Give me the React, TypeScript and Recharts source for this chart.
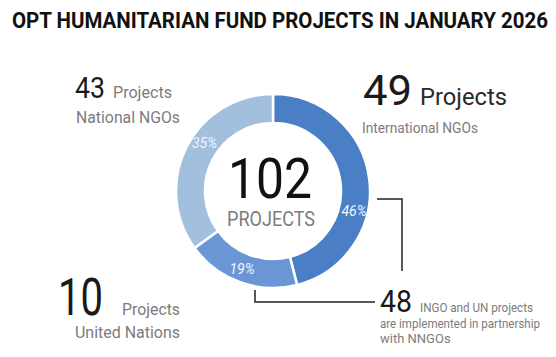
import { PieChart, Pie, Cell } from "recharts";

// OPT Humanitarian Fund – projects by partner type, January 2026
const segments = ["International NGOs", "United Nations", "National NGOs"];
const shares = [46, 19, 35];
const projectCounts = [49, 10, 43];
const totalProjects = 102;
const partnershipCount = 48;

const SEGMENT_COLORS = ["#4a7fc6", "#6b96d5", "#a3bfde"];
// small angular nudges so the % labels sit where the original has them
const LABEL_SHIFT = [-21, -2, -8];

const RADIAN = Math.PI / 180;
const FONT = "Roboto, 'Noto Sans', sans-serif";
const DARK = "#1a1a1a";
const GREY = "#7c7c7c";

const pieData = segments.map((name, i) => ({
  name,
  value: shares[i],
  count: projectCounts[i],
}));

function PercentLabel(props: any) {
  const { cx, cy, midAngle, innerRadius, outerRadius, index, value } = props;
  const r = (innerRadius + outerRadius) / 2 + 1;
  const a = (midAngle + LABEL_SHIFT[index]) * RADIAN;
  const x = cx + r * Math.cos(-a);
  const y = cy + r * Math.sin(-a);
  return (
    <text
      x={x}
      y={y}
      fill="#f2f6fc"
      fontSize={14}
      fontStyle="italic"
      fontFamily={FONT}
      textAnchor="middle"
      dominantBaseline="central"
    >
      {`${value}%`}
    </text>
  );
}

export default function App() {
  return (
    <div
      style={{
        position: "absolute",
        left: 0,
        top: 0,
        width: 556,
        height: 357,
        background: "#fff",
        overflow: "hidden",
      }}
    >
      <PieChart width={556} height={357} margin={{ top: 0, right: 0, bottom: 0, left: 0 }}>
        <Pie
          data={pieData}
          dataKey="value"
          cx={273}
          cy={191}
          innerRadius={68}
          outerRadius={97}
          startAngle={90}
          endAngle={-270}
          stroke="#ffffff"
          strokeWidth={2.5}
          label={PercentLabel}
          labelLine={false}
          isAnimationActive={false}
        >
          {pieData.map((d, i) => (
            <Cell key={d.name} fill={SEGMENT_COLORS[i]} />
          ))}
        </Pie>
      </PieChart>

      <svg
        width={556}
        height={357}
        style={{ position: "absolute", left: 0, top: 0, pointerEvents: "none" }}
        fontFamily={FONT}
      >
        <text x={12} y={28} fontSize={22} fontWeight={700} fill="#111" textLength={536} lengthAdjust="spacingAndGlyphs">
          OPT HUMANITARIAN FUND PROJECTS IN JANUARY 2026
        </text>

        {/* centre */}
        <text x={270} y={198} fontSize={56} fill="#111" textAnchor="middle" textLength={84} lengthAdjust="spacingAndGlyphs">
          {totalProjects}
        </text>
        <text x={271} y={226} fontSize={20} fill={GREY} textAnchor="middle" textLength={88} lengthAdjust="spacingAndGlyphs">
          PROJECTS
        </text>

        {/* national NGOs */}
        <text x={75} y={98} fontSize={29} fill={DARK} textLength={30} lengthAdjust="spacingAndGlyphs">
          {projectCounts[2]}
        </text>
        <text x={113} y={98} fontSize={16} fill={GREY} textLength={59} lengthAdjust="spacingAndGlyphs">
          Projects
        </text>
        <text x={76} y={123} fontSize={16} fill={GREY} textLength={104} lengthAdjust="spacingAndGlyphs">
          {segments[2]}
        </text>

        {/* international NGOs */}
        <text x={363} y={105} fontSize={42} fill={DARK} textLength={49} lengthAdjust="spacingAndGlyphs">
          {projectCounts[0]}
        </text>
        <text x={420} y={105} fontSize={23} fill="#2a2a2a" textLength={87} lengthAdjust="spacingAndGlyphs">
          Projects
        </text>
        <text x={362} y={133} fontSize={15} fill={GREY} textLength={116} lengthAdjust="spacingAndGlyphs">
          {segments[0]}
        </text>

        {/* united nations */}
        <text x={58} y={315} fontSize={52} fill={DARK} textLength={45} lengthAdjust="spacingAndGlyphs">
          {projectCounts[1]}
        </text>
        <text x={122} y={315} fontSize={16} fill={GREY} textLength={58} lengthAdjust="spacingAndGlyphs">
          Projects
        </text>
        <text x={75} y={338} fontSize={16} fill={GREY} textLength={105} lengthAdjust="spacingAndGlyphs">
          {segments[1]}
        </text>

        {/* partnership callout */}
        <polyline points="377,199 402,199 402,271" fill="none" stroke="#222" strokeWidth={1.5} />
        <polyline points="255,290 255,302 375,302" fill="none" stroke="#222" strokeWidth={1.5} />
        <text x={380} y={312} fontSize={31} fill={DARK} textLength={32} lengthAdjust="spacingAndGlyphs">
          {partnershipCount}
        </text>
        <text x={420} y={312} fontSize={13} fill={GREY} textLength={113} lengthAdjust="spacingAndGlyphs">
          INGO and UN projects
        </text>
        <text x={380} y={328} fontSize={13} fill={GREY} textLength={160} lengthAdjust="spacingAndGlyphs">
          are implemented in partnership
        </text>
        <text x={380} y={343} fontSize={13} fill={GREY}>
          with NNGOs
        </text>
      </svg>
    </div>
  );
}
